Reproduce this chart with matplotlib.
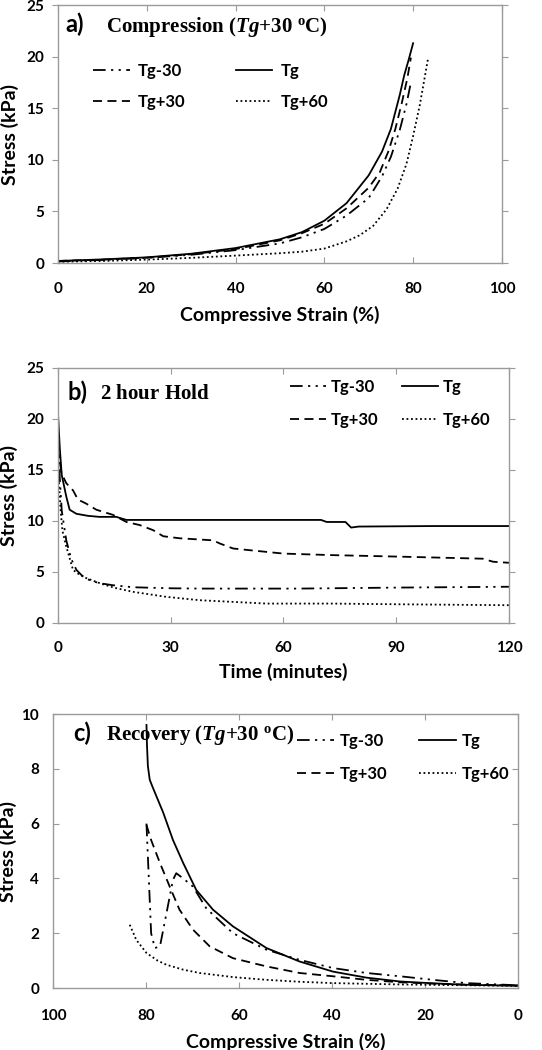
import matplotlib
matplotlib.use("Agg")
import matplotlib.pyplot as plt

plt.rcParams['font.family'] = ['Lato', 'DejaVu Sans']
plt.rcParams['font.weight'] = 'bold'
plt.rcParams['mathtext.fontset'] = 'custom'
plt.rcParams['mathtext.rm'] = 'Liberation Serif:bold'
plt.rcParams['mathtext.it'] = 'Liberation Serif:italic:bold'
plt.rcParams['mathtext.bf'] = 'Liberation Serif:bold'

labels = ['Tg-30', 'Tg', 'Tg+30', 'Tg+60']

# a) compression
a_x = {
    'Tg-30': [0, 10, 20, 30, 40, 50, 55, 60, 65, 70, 73, 75, 77, 78.5, 79.6],
    'Tg': [0, 10, 20, 30, 40, 50, 55, 60, 65, 70, 73, 75, 77, 78, 79, 80],
    'Tg+30': [0, 10, 20, 30, 40, 50, 55, 60, 65, 70, 72.5, 74.5, 76, 77.5, 78.7, 79.5],
    'Tg+60': [0, 10, 20, 30, 40, 50, 55, 60, 65, 68, 71, 74, 76.5, 78.5, 80, 81.5, 83.4],
}
a_y = {
    'Tg-30': [0.15, 0.3, 0.5, 0.8, 1.25, 1.9, 2.5, 3.3, 4.6, 6.3, 8.4, 10.3, 12.9, 15.4, 17.7],
    'Tg': [0.2, 0.35, 0.55, 0.9, 1.45, 2.3, 3.0, 4.1, 5.8, 8.5, 10.8, 13.0, 16.3, 18.2, 19.7, 21.3],
    'Tg+30': [0.2, 0.33, 0.52, 0.85, 1.35, 2.2, 2.9, 3.8, 5.3, 7.3, 8.8, 10.9, 13.0, 15.6, 17.9, 19.9],
    'Tg+60': [0.12, 0.2, 0.33, 0.5, 0.72, 0.95, 1.1, 1.4, 2.1, 2.7, 3.6, 5.2, 7.2, 9.6, 12.3,
              15.3, 19.9],
}

# b) 2 hour hold
b_x = {
    'Tg-30': [0, 0.5, 1, 2.2, 3.5, 4.9, 6.5, 8.4, 11, 14.6, 20, 30, 37.7, 64, 91, 120],
    'Tg': [0, 0.5, 1, 2.2, 3.1, 4.9, 8, 11, 15.5, 18.2, 30, 50, 70, 71.5, 76.5, 78, 80, 100, 120],
    'Tg+30': [0, 0.5, 0.9, 2.2, 4, 5.3, 7.5, 10.2, 14.6, 18.2, 21.7, 25.3, 28, 32.4, 41.3, 43,
              46.6, 51.9, 60, 73, 91, 113, 115.8, 120],
    'Tg+60': [0, 0.3, 0.7, 1.2, 2.2, 4, 5.5, 7.5, 11.1, 15, 20, 28.8, 37.7, 55.5, 73, 91, 120],
}
b_y = {
    'Tg-30': [18.3, 14, 11, 8.1, 6.3, 5.2, 4.6, 4.2, 3.9, 3.7, 3.5, 3.4, 3.37, 3.37, 3.47, 3.55],
    'Tg': [20.5, 17, 14.5, 12.4, 11.1, 10.7, 10.5, 10.4, 10.4, 10.1, 10.1, 10.1, 10.1, 9.9, 9.9,
           9.35, 9.45, 9.5, 9.5],
    'Tg+30': [17, 15.8, 14.7, 13.7, 13, 12.1, 11.7, 11.1, 10.6, 9.9, 9.6, 9.1, 8.5, 8.3, 8.1, 7.8,
              7.3, 7.1, 6.8, 6.65, 6.5, 6.3, 6.0, 5.9],
    'Tg+60': [16, 13.5, 11, 9, 7.5, 5.2, 4.8, 4.4, 3.9, 3.45, 3.05, 2.56, 2.23, 1.9, 1.9, 1.83, 1.74],
}

# c) recovery
c_x = {
    'Tg-30': [79.9, 79.4, 78.9, 78.1, 77, 75.6, 74.2, 73.5, 72, 69.9, 67, 61.3, 54.1, 47, 39.8,
              32.6, 25.4, 18.3, 11.1, 0],
    'Tg': [79.9, 79.8, 79.6, 79.2, 78.5, 77.4, 76.3, 74.2, 72, 69.2, 65.6, 61.3, 54.1, 47, 39.8,
           32.6, 25.4, 18, 11.1, 0],
    'Tg+30': [79.9, 78.9, 77, 74.9, 72.8, 69.9, 66.3, 61.3, 54.1, 47, 39.8, 32.6, 25.4, 18, 11.1, 0],
    'Tg+60': [83.5, 82.1, 79.9, 77.5, 75.6, 72, 68.5, 61.3, 54.1, 47, 39.8, 25, 10, 0],
}
c_y = {
    'Tg-30': [6.0, 4.0, 2.0, 1.46, 1.52, 2.73, 3.95, 4.19, 4.0, 3.7, 2.9, 2.0, 1.4, 1.03, 0.73,
              0.55, 0.43, 0.3, 0.18, 0.1],
    'Tg': [9.6, 8.9, 8.1, 7.6, 7.3, 6.85, 6.4, 5.4, 4.56, 3.58, 2.86, 2.25, 1.46, 0.97, 0.6,
           0.38, 0.24, 0.17, 0.12, 0.08],
    'Tg+30': [5.95, 5.4, 4.56, 3.7, 2.86, 2.13, 1.52, 1.09, 0.79, 0.55, 0.43, 0.3, 0.21, 0.16,
              0.12, 0.1],
    'Tg+60': [2.31, 1.76, 1.28, 1.0, 0.85, 0.67, 0.55, 0.4, 0.3, 0.23, 0.18, 0.13, 0.1, 0.08],
}

styles = {
    'Tg-30': (0, (7, 3, 1.2, 3, 1.2, 3)),
    'Tg': '-',
    'Tg+30': (0, (5, 3)),
    'Tg+60': (0, (1, 1.5)),
}
order = ['Tg-30', 'Tg+30', 'Tg', 'Tg+60']  # legend fills column-wise

fig = plt.figure(figsize=(5.42, 10.5), dpi=100)


def setup(ax, xlim, xticks, ylim, yticks, xlabel, xlab_y, ylab_x, pad, ydir='out'):
    ax.set_xlim(xlim)
    ax.set_ylim(ylim)
    ax.set_xticks(xticks)
    ax.set_yticks(yticks)
    for s in ax.spines.values():
        s.set_color('#9a9a9a')
        s.set_linewidth(1.0)
    ax.tick_params(axis='x', direction='in', top=True, length=4, color='#9a9a9a',
                   labelsize=11, pad=pad)
    ax.tick_params(axis='y', direction=ydir, right=True, length=4, color='#9a9a9a',
                   labelsize=11, pad=6 if ydir == 'out' else 10)
    ax.set_xlabel(xlabel, fontsize=14, fontweight='bold')
    ax.set_ylabel('Stress (kPa)', fontsize=14, fontweight='bold')
    ax.xaxis.set_label_coords(0.5, xlab_y)
    ax.yaxis.set_label_coords(ylab_x, 0.5)


def draw(ax, xs, ys):
    for lab in labels:
        ax.plot(xs[lab], ys[lab], color='black', linestyle=styles[lab], linewidth=1.3, label=lab)


def legend(ax, x, y, colsp, pad, lsp):
    h, l = ax.get_legend_handles_labels()
    d = dict(zip(l, h))
    ax.legend([d[k] for k in order], order, ncol=2, frameon=False, loc='upper left',
              bbox_to_anchor=(x, y), borderpad=0, borderaxespad=0, handlelength=2.2,
              handletextpad=pad, columnspacing=colsp, labelspacing=lsp,
              prop={'size': 12, 'weight': 'bold'})


# a)
ax1 = fig.add_axes([0.107, 0.7495, 0.819, 0.2457])
draw(ax1, a_x, a_y)
setup(ax1, (0, 100), [0, 20, 40, 60, 80, 100], (0, 25), [0, 5, 10, 15, 20, 25],
      'Compressive Strain (%)', -0.168, -0.088, 14)
ax1.text(0.016, 0.925, 'a)', transform=ax1.transAxes, fontsize=17, fontweight='bold', va='center')
ax1.text(0.108, 0.915, r'$\mathrm{Compression\ (}\mathit{Tg}\mathrm{+30\ ^{o}C)}$',
         transform=ax1.transAxes, fontsize=15, va='center')
legend(ax1, 0.079, 0.775, 3.0, 0.5, 0.9)

# b)
ax2 = fig.add_axes([0.107, 0.4067, 0.832, 0.2429])
draw(ax2, b_x, b_y)
setup(ax2, (0, 120), [0, 30, 60, 90, 120], (0, 25), [0, 5, 10, 15, 20, 25],
      'Time (minutes)', -0.157, -0.088, 13)
ax2.text(0.022, 0.906, 'b)', transform=ax2.transAxes, fontsize=17, fontweight='bold', va='center')
ax2.text(0.093, 0.9, r'$\mathrm{2\ hour\ Hold}$', transform=ax2.transAxes, fontsize=15, va='center')
legend(ax2, 0.514, 0.958, 1.4, 0.25, 1.05)

# c)
ax3 = fig.add_axes([0.0978, 0.059, 0.858, 0.261])
draw(ax3, c_x, c_y)
setup(ax3, (100, 0), [100, 80, 60, 40, 20, 0], (0, 10), [0, 2, 4, 6, 8, 10],
      'Compressive Strain (%)', -0.163, -0.077, 15, ydir='in')
ax3.text(0.043, 0.93, 'c)', transform=ax3.transAxes, fontsize=17, fontweight='bold', va='center')
ax3.text(0.114, 0.925, r'$\mathrm{Recovery\ (}\mathit{Tg}\mathrm{+30\ ^{o}C)}$',
         transform=ax3.transAxes, fontsize=15, va='center', zorder=1)
legend(ax3, 0.525, 0.93, 1.9, 0.35, 1.0)

fig.savefig('out.png', dpi=100)
